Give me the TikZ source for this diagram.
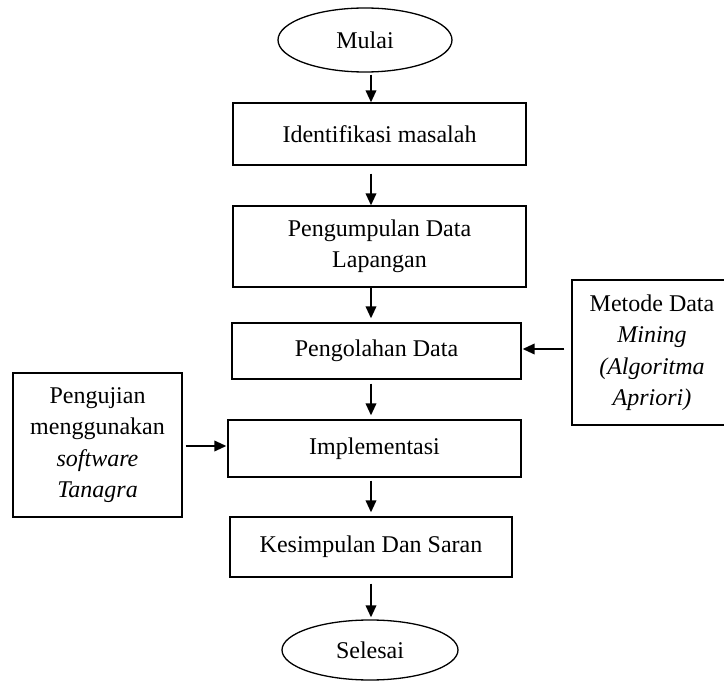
\documentclass[tikz,border=0pt]{standalone}
\usepackage{fontspec}
\setmainfont{Liberation Serif}
\usetikzlibrary{arrows.meta,shapes.geometric}
\begin{document}
\begin{tikzpicture}[x=1pt,y=-1pt,
  every node/.style={font=\fontsize{24}{31.5}\selectfont, inner sep=0pt, align=center},
  box/.style={draw, line width=1.3pt, rectangle},
  term/.style={draw, line width=1.3pt, ellipse},
  arr/.style={line width=2pt, -{Triangle[length=12pt,width=10.5pt]}}]
\useasboundingbox (0,0) rectangle (724,682);
\node[term, minimum width=174pt, minimum height=64pt] (mulai) at (365,40) {Mulai};
\node[box, minimum width=293pt, minimum height=62pt] (ident) at (379.5,134) {Identifikasi masalah};
\node[box, minimum width=293pt, minimum height=81pt] (kumpul) at (379.5,246.5) {Pengumpulan Data\\Lapangan};
\node[box, minimum width=289pt, minimum height=56pt] (olah) at (376.5,351) {Pengolahan Data};
\node[box, minimum width=293pt, minimum height=57pt] (impl) at (374.5,448.5) {Implementasi};
\node[box, minimum width=282pt, minimum height=60pt] (simpul) at (371,547) {Kesimpulan Dan Saran};
\node[term, minimum width=176pt, minimum height=60pt] (selesai) at (370,650) {Selesai};
\node[box, minimum width=169pt, minimum height=144pt] (uji) at (97.5,445) {Pengujian\\menggunakan\\\textit{software}\\\textit{Tanagra}};
\node[box, minimum width=160pt, minimum height=145pt] (metode) at (652,352.5) {Metode Data\\\textit{Mining}\\\textit{(Algoritma}\\\textit{Apriori)}};
\coordinate (ax) at (371,0);
\draw[arr, shorten <=2pt] (mulai.south -| ax) -- (ident.north -| ax);
\draw[arr, shorten <=8pt] (ident.south -| ax) -- (kumpul.north -| ax);
\draw[arr, shorten >=4pt] (kumpul.south -| ax) -- (olah.north -| ax);
\draw[arr, shorten <=4pt, shorten >=4pt] (olah.south -| ax) -- (impl.north -| ax);
\draw[arr, shorten <=3pt, shorten >=4pt] (impl.south -| ax) -- (simpul.north -| ax);
\draw[arr, shorten <=6pt, shorten >=2pt] (simpul.south -| ax) -- (selesai.north -| ax);
\draw[arr, shorten <=7pt, shorten >=1pt] (metode.west |- 0,349) -- (olah.east |- 0,349);
\draw[arr, shorten <=3pt, shorten >=1pt] (uji.east |- 0,446) -- (impl.west |- 0,446);
\end{tikzpicture}
\end{document}
